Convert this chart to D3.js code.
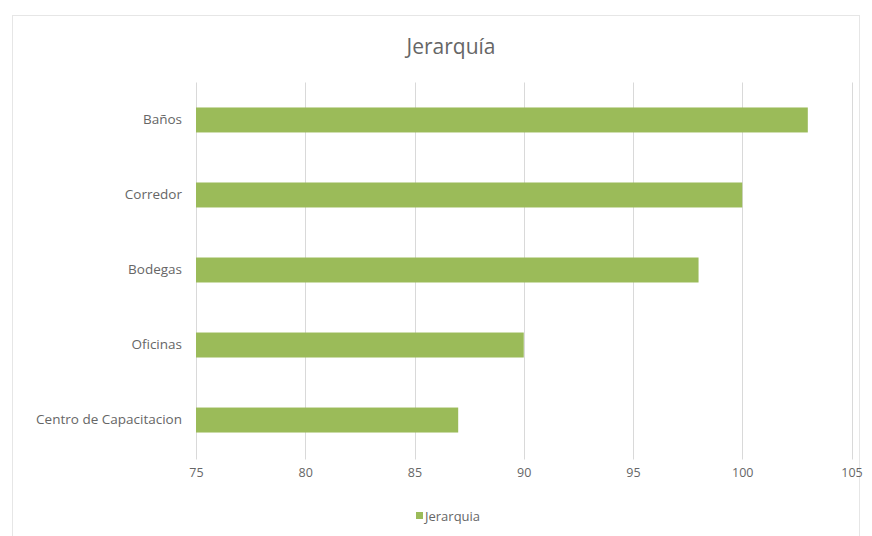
<!DOCTYPE html>
<html>
<head>
<meta charset="utf-8">
<script src="https://cdn.jsdelivr.net/npm/d3@7"></script>
<style>
  html, body { margin: 0; padding: 0; background: #ffffff; }
  svg { display: block; font-family: "Open Sans", "DejaVu Sans", sans-serif; }
</style>
</head>
<body>
<svg id="chart" width="872" height="536"></svg>
<script>
const categories = ["Baños", "Corredor", "Bodegas", "Oficinas", "Centro de Capacitacion"];
const values = [103, 100, 98, 90, 87];
const xTicks = [75, 80, 85, 90, 95, 100, 105];
const seriesName = "Jerarquia";
const titleText = "Jerarquía";

const svg = d3.select("#chart");
const W = 872, H = 536;
const margin = { left: 196, right: 20, top: 82.5, bottom: 78.5 };
const plotRight = 851.5;

// chart frame
svg.append("rect")
  .attr("x", 12.5).attr("y", 15.5)
  .attr("width", 847).attr("height", 530)
  .attr("fill", "#ffffff").attr("stroke", "#e6e6e6").attr("stroke-width", 1);

const x = d3.scaleLinear().domain([75, 105]).range([margin.left, plotRight]);
const y = d3.scaleBand().domain(categories).range([margin.top, H - margin.bottom]).paddingInner(0.667).paddingOuter(0.333);

// gridlines
svg.append("g")
  .selectAll("line")
  .data(xTicks)
  .join("line")
  .attr("x1", d => Math.round(x(d)) + 0.5)
  .attr("x2", d => Math.round(x(d)) + 0.5)
  .attr("y1", margin.top)
  .attr("y2", H - margin.bottom + 2)
  .attr("stroke", "#d9d9d9")
  .attr("stroke-width", 1);

// bars
svg.append("g")
  .selectAll("rect")
  .data(categories)
  .join("rect")
  .attr("x", x(75))
  .attr("y", d => y(d))
  .attr("width", (d, i) => x(values[i]) - x(75))
  .attr("height", y.bandwidth())
  .attr("fill", "#9bbb59");

// x axis labels
const xAxis = d3.axisBottom(x).tickValues(xTicks).tickSize(0).tickPadding(0);
const gx = svg.append("g")
  .attr("transform", `translate(0, ${H - margin.bottom + 11})`)
  .call(xAxis);
gx.select(".domain").remove();
gx.selectAll("text")
  .attr("fill", "#666666")
  .attr("font-size", "12.5px")
  .attr("font-family", "Open Sans, sans-serif");

// y axis labels
const yAxis = d3.axisLeft(y).tickSize(0).tickPadding(14);
const gy = svg.append("g")
  .attr("transform", `translate(${margin.left}, 0)`)
  .call(yAxis);
gy.select(".domain").remove();
gy.selectAll("text")
  .attr("fill", "#666666")
  .attr("font-size", "13.5px")
  .attr("font-family", "Open Sans, sans-serif");

// title
svg.append("text")
  .attr("x", 451)
  .attr("y", 54)
  .attr("text-anchor", "middle")
  .attr("font-size", "21px")
  .attr("fill", "#666666")
  .text(titleText);

// legend
const lg = svg.append("g").attr("transform", "translate(416, 516)");
lg.append("rect")
  .attr("x", 0).attr("y", -4)
  .attr("width", 7).attr("height", 7)
  .attr("fill", "#9bbb59");
lg.append("text")
  .attr("x", 9).attr("y", 0)
  .attr("dy", "0.35em")
  .attr("font-size", "13px")
  .attr("fill", "#666666")
  .text(seriesName);
</script>
</body>
</html>
